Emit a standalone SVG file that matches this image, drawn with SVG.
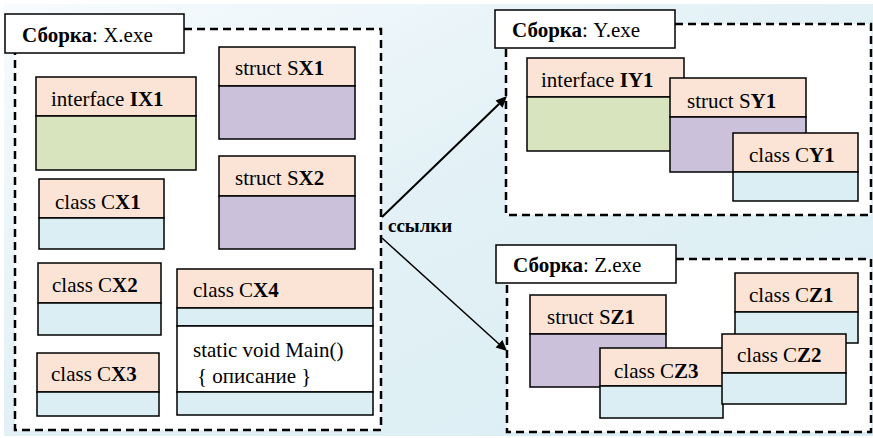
<svg xmlns="http://www.w3.org/2000/svg" width="873" height="438" viewBox="0 0 873 438">
  <defs>
    <linearGradient id="bg" x1="0" y1="0" x2="1" y2="1">
      <stop offset="0" stop-color="#f7fbfd"/>
      <stop offset="0.45" stop-color="#e3f1f6"/>
      <stop offset="1" stop-color="#d9edf3"/>
    </linearGradient>
  </defs>
  <rect x="4" y="4" width="869" height="432" fill="url(#bg)"/>

  <!-- Assembly X -->
  <g id="asm-x">
    <rect x="15" y="29" width="366" height="401" fill="#fff" stroke="#000" stroke-width="2.5" stroke-dasharray="8 5"/>
    <rect x="5" y="14" width="179" height="39" fill="#fff" stroke="#000" stroke-width="1.5"/>
    <text x="22" y="42" font-family="Times New Roman, Liberation Serif, serif" font-size="21"><tspan font-weight="bold">Сборка</tspan>: X.exe</text>
  </g>
  <g id="ix1">
    <rect x="36" y="77" width="160" height="39" fill="#fbe4d5" stroke="#000" stroke-width="1.5"/>
    <rect x="36" y="116" width="160" height="54" fill="#d7e4bd" stroke="#000" stroke-width="1.5"/>
    <text x="51" y="106" font-family="Times New Roman, Liberation Serif, serif" font-size="21">interface <tspan font-weight="bold">IX1</tspan></text>
  </g>
  <g id="sx1">
    <rect x="219" y="47" width="136" height="39" fill="#fbe4d5" stroke="#000" stroke-width="1.5"/>
    <rect x="219" y="86" width="136" height="53" fill="#ccc1da" stroke="#000" stroke-width="1.5"/>
    <text x="235" y="75" font-family="Times New Roman, Liberation Serif, serif" font-size="21">struct S<tspan font-weight="bold">X1</tspan></text>
  </g>
  <g id="sx2">
    <rect x="219" y="156" width="136" height="40" fill="#fbe4d5" stroke="#000" stroke-width="1.5"/>
    <rect x="219" y="196" width="136" height="53" fill="#ccc1da" stroke="#000" stroke-width="1.5"/>
    <text x="235" y="185" font-family="Times New Roman, Liberation Serif, serif" font-size="21">struct S<tspan font-weight="bold">X2</tspan></text>
  </g>
  <g id="cx1">
    <rect x="39" y="179" width="125" height="39" fill="#fbe4d5" stroke="#000" stroke-width="1.5"/>
    <rect x="39" y="218" width="125" height="31" fill="#daeef3" stroke="#000" stroke-width="1.5"/>
    <text x="55" y="209" font-family="Times New Roman, Liberation Serif, serif" font-size="21">class C<tspan font-weight="bold">X1</tspan></text>
  </g>
  <g id="cx2">
    <rect x="38" y="263" width="123" height="40" fill="#fbe4d5" stroke="#000" stroke-width="1.5"/>
    <rect x="38" y="303" width="123" height="32" fill="#daeef3" stroke="#000" stroke-width="1.5"/>
    <text x="52" y="292" font-family="Times New Roman, Liberation Serif, serif" font-size="21">class C<tspan font-weight="bold">X2</tspan></text>
  </g>
  <g id="cx3">
    <rect x="37" y="353" width="122" height="39" fill="#fbe4d5" stroke="#000" stroke-width="1.5"/>
    <rect x="37" y="392" width="122" height="24" fill="#daeef3" stroke="#000" stroke-width="1.5"/>
    <text x="51" y="381" font-family="Times New Roman, Liberation Serif, serif" font-size="21">class C<tspan font-weight="bold">X3</tspan></text>
  </g>
  <g id="cx4">
    <rect x="177" y="269" width="196" height="39" fill="#fbe4d5" stroke="#000" stroke-width="1.5"/>
    <rect x="177" y="308" width="196" height="18" fill="#daeef3" stroke="#000" stroke-width="1.5"/>
    <rect x="177" y="326" width="196" height="66" fill="#fff" stroke="#000" stroke-width="1.5"/>
    <rect x="177" y="392" width="196" height="23" fill="#daeef3" stroke="#000" stroke-width="1.5"/>
    <text x="193" y="297" font-family="Times New Roman, Liberation Serif, serif" font-size="21">class C<tspan font-weight="bold">X4</tspan></text>
    <text x="193" y="357" font-family="Times New Roman, Liberation Serif, serif" font-size="21">static void Main()</text>
    <text x="197" y="383" font-family="Times New Roman, Liberation Serif, serif" font-size="21">{ описание }</text>
  </g>

  <!-- Assembly Y -->
  <g id="asm-y">
    <rect x="506" y="24" width="365" height="191" fill="#fff" stroke="#000" stroke-width="2.5" stroke-dasharray="8 5"/>
    <rect x="495" y="10" width="180" height="38" fill="#fff" stroke="#000" stroke-width="1.5"/>
    <text x="512" y="37" font-family="Times New Roman, Liberation Serif, serif" font-size="21"><tspan font-weight="bold">Сборка</tspan>: Y.exe</text>
  </g>
  <g id="iy1">
    <rect x="527" y="58" width="157" height="39" fill="#fbe4d5" stroke="#000" stroke-width="1.5"/>
    <rect x="527" y="97" width="157" height="54" fill="#d7e4bd" stroke="#000" stroke-width="1.5"/>
    <text x="541" y="87" font-family="Times New Roman, Liberation Serif, serif" font-size="21">interface <tspan font-weight="bold">IY1</tspan></text>
  </g>
  <g id="sy1">
    <rect x="670" y="78" width="136" height="39" fill="#fbe4d5" stroke="#000" stroke-width="1.5"/>
    <rect x="670" y="117" width="136" height="55" fill="#ccc1da" stroke="#000" stroke-width="1.5"/>
    <text x="687" y="108" font-family="Times New Roman, Liberation Serif, serif" font-size="21">struct S<tspan font-weight="bold">Y1</tspan></text>
  </g>
  <g id="cy1">
    <rect x="733" y="133" width="125" height="39" fill="#fbe4d5" stroke="#000" stroke-width="1.5"/>
    <rect x="733" y="172" width="125" height="29" fill="#daeef3" stroke="#000" stroke-width="1.5"/>
    <text x="749" y="162" font-family="Times New Roman, Liberation Serif, serif" font-size="21">class C<tspan font-weight="bold">Y1</tspan></text>
  </g>

  <!-- Assembly Z -->
  <g id="asm-z">
    <rect x="507" y="259" width="364" height="173" fill="#fff" stroke="#000" stroke-width="2.5" stroke-dasharray="8 5"/>
    <rect x="496" y="245" width="180" height="38" fill="#fff" stroke="#000" stroke-width="1.5"/>
    <text x="513" y="272" font-family="Times New Roman, Liberation Serif, serif" font-size="21"><tspan font-weight="bold">Сборка</tspan>: Z.exe</text>
  </g>
  <g id="sz1">
    <rect x="530" y="295" width="136" height="39" fill="#fbe4d5" stroke="#000" stroke-width="1.5"/>
    <rect x="530" y="334" width="136" height="53" fill="#ccc1da" stroke="#000" stroke-width="1.5"/>
    <text x="547" y="324" font-family="Times New Roman, Liberation Serif, serif" font-size="21">struct S<tspan font-weight="bold">Z1</tspan></text>
  </g>
  <g id="cz1">
    <rect x="735" y="273" width="123" height="39" fill="#fbe4d5" stroke="#000" stroke-width="1.5"/>
    <rect x="735" y="312" width="123" height="31" fill="#daeef3" stroke="#000" stroke-width="1.5"/>
    <text x="749" y="302" font-family="Times New Roman, Liberation Serif, serif" font-size="21">class C<tspan font-weight="bold">Z1</tspan></text>
  </g>
  <g id="cz3">
    <rect x="600" y="348" width="123" height="38" fill="#fbe4d5" stroke="#000" stroke-width="1.5"/>
    <rect x="600" y="386" width="123" height="32" fill="#daeef3" stroke="#000" stroke-width="1.5"/>
    <text x="614" y="378" font-family="Times New Roman, Liberation Serif, serif" font-size="21">class C<tspan font-weight="bold">Z3</tspan></text>
  </g>
  <g id="cz2">
    <rect x="722" y="334" width="124" height="39" fill="#fbe4d5" stroke="#000" stroke-width="1.5"/>
    <rect x="722" y="373" width="124" height="31" fill="#daeef3" stroke="#000" stroke-width="1.5"/>
    <text x="737" y="362" font-family="Times New Roman, Liberation Serif, serif" font-size="21">class C<tspan font-weight="bold">Z2</tspan></text>
  </g>

  <!-- References between assemblies -->
  <g id="connectors">
    <line x1="382" y1="217" x2="499" y2="104" stroke="#000" stroke-width="2"/>
    <polygon points="507,96 502.6,107.8 495.6,100.6" fill="#000"/>
    <line x1="382" y1="238" x2="499" y2="344" stroke="#000" stroke-width="1.5"/>
    <polygon points="507,351 495.6,347.5 502.4,340" fill="#000"/>
    <text x="388" y="232" font-family="Times New Roman, Liberation Serif, serif" font-size="19" font-weight="bold">ссылки</text>
  </g>
</svg>
